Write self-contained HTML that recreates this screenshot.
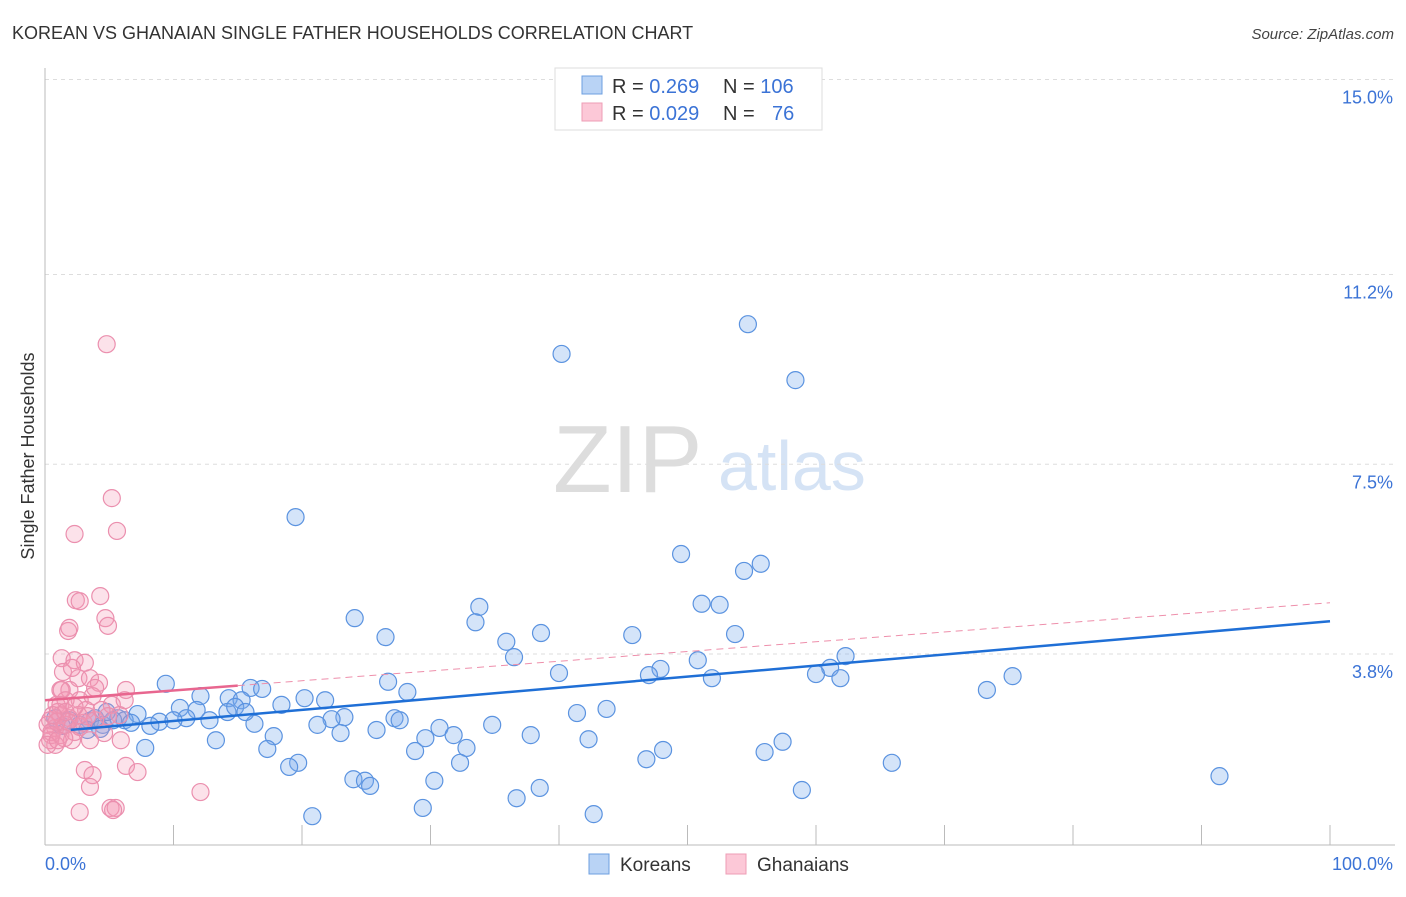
<!DOCTYPE html>
<html><head><meta charset="utf-8"><style>
body{margin:0;background:#fff;font-family:"Liberation Sans",sans-serif;}
svg text{font-family:"Liberation Sans",sans-serif;}
</style></head><body>
<svg id="chart" width="1406" height="892" viewBox="0 0 1406 892" xmlns="http://www.w3.org/2000/svg">
<text x="12" y="39" font-size="18" fill="#333">KOREAN VS GHANAIAN SINGLE FATHER HOUSEHOLDS CORRELATION CHART</text>
<text x="1394" y="39" font-size="15" font-style="italic" fill="#444" text-anchor="end">Source: ZipAtlas.com</text>
<text x="553" y="492" font-size="96" font-family="Liberation Serif" fill="#ddd">ZIP</text>
<text x="718" y="490" font-size="70" fill="#d5e3f5">atlas</text>
<g id="grid"></g>
<g id="axes"></g>
<g id="pts"></g>
<g id="lines"></g>
<text transform="translate(34,456) rotate(-90)" font-size="18" fill="#333" text-anchor="middle">Single Father Households</text>
<text x="45" y="870" font-size="18" fill="#3b73d6">0.0%</text>
<text x="1393" y="870" font-size="18" fill="#3b73d6" text-anchor="end">100.0%</text>
<g>
<rect x="555" y="68" width="267" height="62" fill="#fff" stroke="#ddd"/>
<rect x="582" y="76" width="20" height="18" fill="#b9d3f5" stroke="#6d9fe0"/>
<rect x="582" y="103" width="20" height="18" fill="#fcc8d7" stroke="#ee9db5"/>
<text x="612" y="93" font-size="20" fill="#333">R = <tspan fill="#3b73d6">0.269</tspan><tspan x="723">N = </tspan><tspan fill="#3b73d6">106</tspan></text>
<text x="612" y="120" font-size="20" fill="#333">R = <tspan fill="#3b73d6">0.029</tspan><tspan x="723">N = </tspan><tspan x="772" fill="#3b73d6">76</tspan></text>
</g>
<g>
<rect x="589" y="854" width="20" height="20" fill="#b9d3f5" stroke="#6d9fe0"/>
<text x="620" y="871" font-size="19" fill="#333">Koreans</text>
<rect x="726" y="854" width="20" height="20" fill="#fcc8d7" stroke="#ee9db5"/>
<text x="757" y="871" font-size="19" fill="#333">Ghanaians</text>
</g>
</svg>
<script>
const yTicks=[3.8,7.5,11.2,15.0];
const yTickLabels=["3.8%","7.5%","11.2%","15.0%"];
const xTicks=[0,10,20,30,40,50,60,70,80,90,100];
const koreanX=[54.7,40.2,58.4,19.5,49.5,54.4,55.7,51.1,52.5,33.8,24.1,33.5,38.6,45.7,26.5,53.7,35.9,36.5,62.3,50.8,47.9,40.0,47.0,61.1,60.0,61.9,75.3,51.9,26.7,73.3,9.4,16.0,16.9,28.2,20.2,21.8,14.3,12.1,15.3,18.4,10.5,11.8,11.0,14.2,23.3,22.3,27.2,27.6,43.7,41.4,34.8,7.2,5.7,6.2,8.9,10.0,12.8,8.2,6.7,3.5,4.5,5.3,21.2,16.3,25.8,30.7,31.8,23.0,37.8,17.8,42.3,13.3,29.6,7.8,17.3,28.8,32.8,57.4,48.1,56.0,46.8,32.3,19.7,19.0,65.9,24.0,24.9,25.3,30.3,91.4,38.5,36.7,58.9,29.4,42.7,20.8,3.9,1.9,1.3,2.7,3.3,0.8,4.8,14.8,15.6,4.3];
const koreanY=[10.23,9.65,9.14,6.47,5.75,5.42,5.56,4.78,4.76,4.72,4.50,4.42,4.21,4.17,4.13,4.19,4.04,3.74,3.76,3.68,3.51,3.43,3.39,3.53,3.41,3.33,3.37,3.33,3.26,3.10,3.22,3.14,3.12,3.06,2.94,2.90,2.94,2.98,2.90,2.81,2.75,2.71,2.55,2.67,2.57,2.53,2.55,2.51,2.73,2.65,2.42,2.63,2.55,2.51,2.48,2.51,2.51,2.40,2.46,2.50,2.42,2.51,2.42,2.44,2.32,2.36,2.22,2.26,2.22,2.20,2.14,2.12,2.16,1.97,1.95,1.91,1.97,2.09,1.93,1.89,1.75,1.68,1.68,1.60,1.68,1.36,1.33,1.23,1.33,1.42,1.19,0.99,1.15,0.80,0.68,0.64,2.55,2.51,2.40,2.42,2.32,2.55,2.67,2.77,2.67,2.34];
const ghanaX=[4.8,5.2,5.6,2.3,2.4,2.7,4.3,4.7,4.9,1.8,1.9,1.3,2.3,3.1,1.4,2.6,3.5,4.2,6.3,1.2,1.9,2.7,3.7,5.2,6.2,0.9,1.6,3.2,1.2,1.9,0.4,0.8,1.2,0.4,2.3,3.5,4.6,5.9,2.1,0.8,1.6,2.7,3.9,5.8,1.0,0.2,0.5,1.5,1.8,3.1,3.7,3.5,6.3,7.2,12.1,2.7,5.1,5.5,5.3,1.2,1.3,2.1,3.9,4.9,0.5,0.9,1.6,2.6,3.0,4.4,0.2,1.0,3.3,2.3,0.6];
const ghanaY=[9.84,6.84,6.20,6.14,4.85,4.83,4.93,4.50,4.35,4.25,4.31,3.72,3.68,3.63,3.45,3.33,3.33,3.24,3.10,3.10,3.10,2.90,2.98,2.81,2.90,2.81,2.90,2.71,2.61,2.55,2.51,2.36,2.22,2.12,2.28,2.12,2.26,2.12,2.12,2.03,2.42,2.38,2.51,2.61,2.67,2.42,2.28,2.16,2.48,1.54,1.44,1.21,1.62,1.50,1.11,0.72,0.80,0.80,0.76,2.81,3.10,3.53,3.14,2.59,2.22,2.48,2.67,2.61,2.46,2.71,2.03,2.12,2.59,2.77,2.61];
const koreanTrend=[2.28,4.44];
const ghanaTrend=[2.90,4.80];
const ghanaSolidEnd=15;
const NS="http://www.w3.org/2000/svg";
const X0=45,X1=1330,Y0=849,PXY=51.3;
function sx(v){return X0+(X1-X0)*v/100;}
function sy(v){return Y0-v*PXY;}
function mk(tag,attrs,parent){const e=document.createElementNS(NS,tag);for(const k in attrs)e.setAttribute(k,attrs[k]);document.getElementById(parent).appendChild(e);return e;}
yTicks.forEach((t,i)=>{
  const l=mk('line',{x1:45,x2:1395,y1:sy(t),y2:sy(t),stroke:'#ddd','stroke-dasharray':'4,4'},'grid');
  
  
  const tx=mk('text',{x:1393,y:sy(t)+24,'font-size':18,fill:'#3b73d6','text-anchor':'end'},'grid');
  tx.textContent=yTickLabels[i];
  
  
});
const ax=mk('line',{x1:45,x2:45,y1:68,y2:845,stroke:'#bbb'},'axes');


const bx=mk('line',{x1:45,x2:1395,y1:845,y2:845,stroke:'#bbb'},'axes');


xTicks.forEach(t=>{
  const l=mk('line',{x1:sx(t),x2:sx(t),y1:825,y2:845,stroke:'#bbb'},'axes');
  
  
});
koreanX.forEach((x,i)=>{
  const c=mk('circle',{cx:sx(x),cy:sy(koreanY[i]),r:8.5,fill:'rgba(120,170,235,0.32)',stroke:'#5b93e0','stroke-width':1.2},'pts');
  
  
});
ghanaX.forEach((x,i)=>{
  const c=mk('circle',{cx:sx(x),cy:sy(ghanaY[i]),r:8.5,fill:'rgba(245,150,180,0.28)',stroke:'#eb8fae','stroke-width':1.2},'pts');
  
  
});
const gAt=x=>ghanaTrend[0]+(ghanaTrend[1]-ghanaTrend[0])*x/100;
const kAt=x=>koreanTrend[0]+(koreanTrend[1]-koreanTrend[0])*x/100;
const gd=mk('line',{x1:sx(ghanaSolidEnd),y1:sy(gAt(ghanaSolidEnd)),x2:sx(100),y2:sy(gAt(100)),stroke:'#ee8fab','stroke-width':1,'stroke-dasharray':'7,5'},'lines');


const gs=mk('line',{x1:sx(0),y1:sy(gAt(0)),x2:sx(ghanaSolidEnd),y2:sy(gAt(ghanaSolidEnd)),stroke:'#e8668f','stroke-width':2.5},'lines');


const kl=mk('line',{x1:sx(2),y1:sy(kAt(2)),x2:sx(100),y2:sy(kAt(100)),stroke:'#1f6fd6','stroke-width':2.5},'lines');


</script>
</body></html>
